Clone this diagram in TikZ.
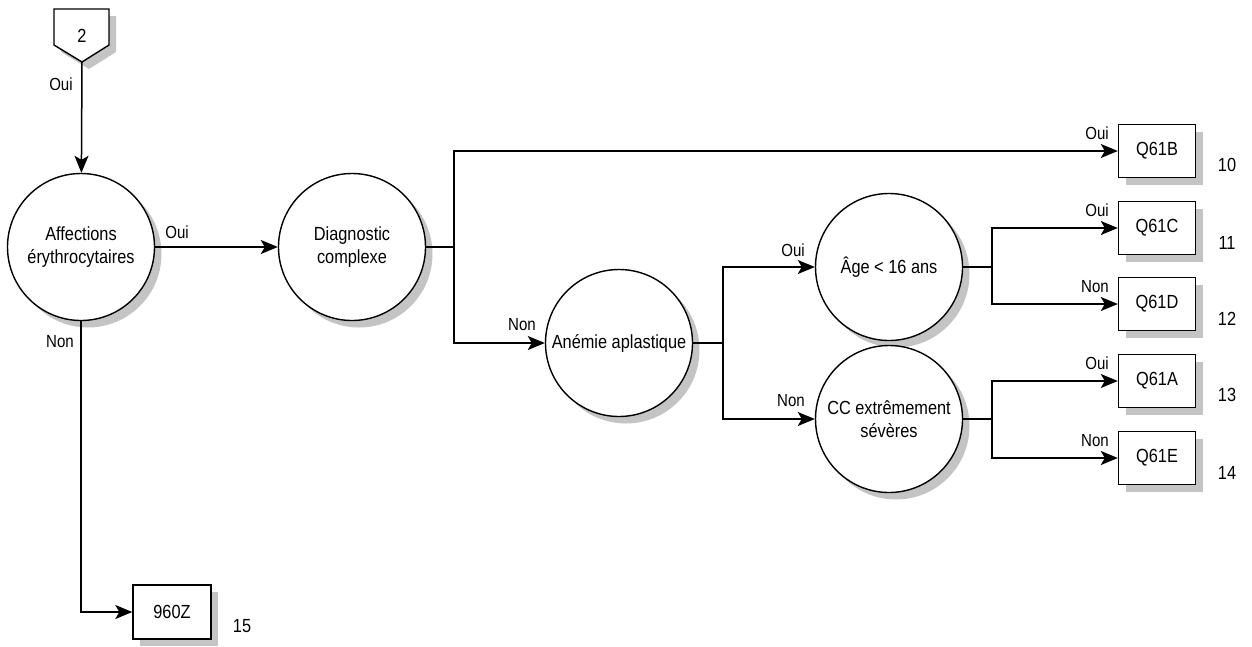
\documentclass[tikz,border=0pt]{standalone}
\usepackage{fontspec}
\setmainfont{Liberation Sans}[FakeStretch=0.86]
\usetikzlibrary{arrows.meta,shadows}
\definecolor{shadowgray}{HTML}{C4C4C4}
\tikzset{
  shad/.style={drop shadow={shadow xshift=7pt, shadow yshift=-7pt, fill=shadowgray, opacity=1}},
  decision/.style={circle, draw, line width=1.4pt, fill=white, minimum size=147pt, inner sep=0pt, align=center, shad},
  endbox/.style={rectangle, draw, line width=1.4pt, fill=white, minimum width=77pt, minimum height=53pt, inner sep=0pt, shad},
  conn/.style={line width=1.5pt, -{Stealth[length=17pt,width=14pt,inset=4pt]}},
  plain/.style={line width=1.5pt},
  lbl/.style={inner sep=0pt, font=\fontsize{17.5}{20}\selectfont},
}
\begin{document}
\begin{tikzpicture}[x=1pt,y=-1pt, font=\fontsize{19}{23}\selectfont]
\useasboundingbox (0,0) rectangle (1252,646);
% off-page connector
\fill[shadowgray, shift={(7,7)}] (54,9) -- (109,9) -- (109,45) -- (82,62) -- (54,45) -- cycle;
\draw[line width=1.4pt, fill=white] (54,9) -- (109,9) -- (109,45) -- (82,62) -- (54,45) -- cycle;
\node[inner sep=0pt] (c2) at (82,36) {2};
\coordinate (c2tip) at (82,62);

% decisions
\node[decision] (aff) at (81,247) {Affections\\érythrocytaires};
\node[decision] (diag) at (352,247) {Diagnostic\\complexe};
\node[decision] (anem) at (619,343) {Anémie aplastique};
\node[decision] (age) at (889,267) {Âge < 16 ans};
\node[decision] (cc) at (889,419) {CC extrêmement\\sévères};

% end boxes
\node[endbox] (q61b) at (1157,151) {Q61B};
\node[endbox] (q61c) at (1157,228) {Q61C};
\node[endbox] (q61d) at (1157,304) {Q61D};
\node[endbox] (q61a) at (1157,381) {Q61A};
\node[endbox] (q61e) at (1157,458) {Q61E};
\node[endbox, minimum width=78pt, minimum height=54pt] (z960) at (172,612) {960Z};

% junctions
\coordinate (j1) at (454,247);
\coordinate (j2) at (723,343);
\coordinate (j3) at (992,267);
\coordinate (j4) at (992,419);

% connectors
\draw[conn] (c2tip) -- (aff);
\draw[conn] (aff) -- (diag);
\draw[plain] (diag.east) -- (j1);
\draw[conn] (j1) |- (q61b.west);
\draw[conn] (j1) |- (anem.west);
\draw[plain] (anem.east) -- (j2);
\draw[conn] (j2) |- (age.west);
\draw[conn] (j2) |- (cc.west);
\draw[plain] (age.east) -- (j3);
\draw[conn] (j3) |- (q61c.west);
\draw[conn] (j3) |- (q61d.west);
\draw[plain] (cc.east) -- (j4);
\draw[conn] (j4) |- (q61a.west);
\draw[conn] (j4) |- (q61e.west);
\draw[conn] (aff.south) |- (z960.west);

% branch labels
\node[lbl] (l1) at (61,84) {Oui};
\node[lbl] (l2) at (177,232) {Oui};
\node[lbl] (l3) at (60,342) {Non};
\node[lbl] (l4) at (1097,133) {Oui};
\node[lbl] (l5) at (522,325) {Non};
\node[lbl] (l6) at (793,250) {Oui};
\node[lbl] (l7) at (791,401) {Non};
\node[lbl] (l8) at (1097,210) {Oui};
\node[lbl] (l9) at (1095,287) {Non};
\node[lbl] (l10) at (1097,363) {Oui};
\node[lbl] (l11) at (1095,441) {Non};

% numbers
\node[lbl, font=\fontsize{19}{20}\selectfont] (n10) at (1227,165) {10};
\node[lbl, font=\fontsize{19}{20}\selectfont] (n11) at (1227,243) {11};
\node[lbl, font=\fontsize{19}{20}\selectfont] (n12) at (1227,319) {12};
\node[lbl, font=\fontsize{19}{20}\selectfont] (n13) at (1227,395) {13};
\node[lbl, font=\fontsize{19}{20}\selectfont] (n14) at (1227,473) {14};
\node[lbl, font=\fontsize{19}{20}\selectfont] (n15) at (242,626) {15};
\end{tikzpicture}
\end{document}
